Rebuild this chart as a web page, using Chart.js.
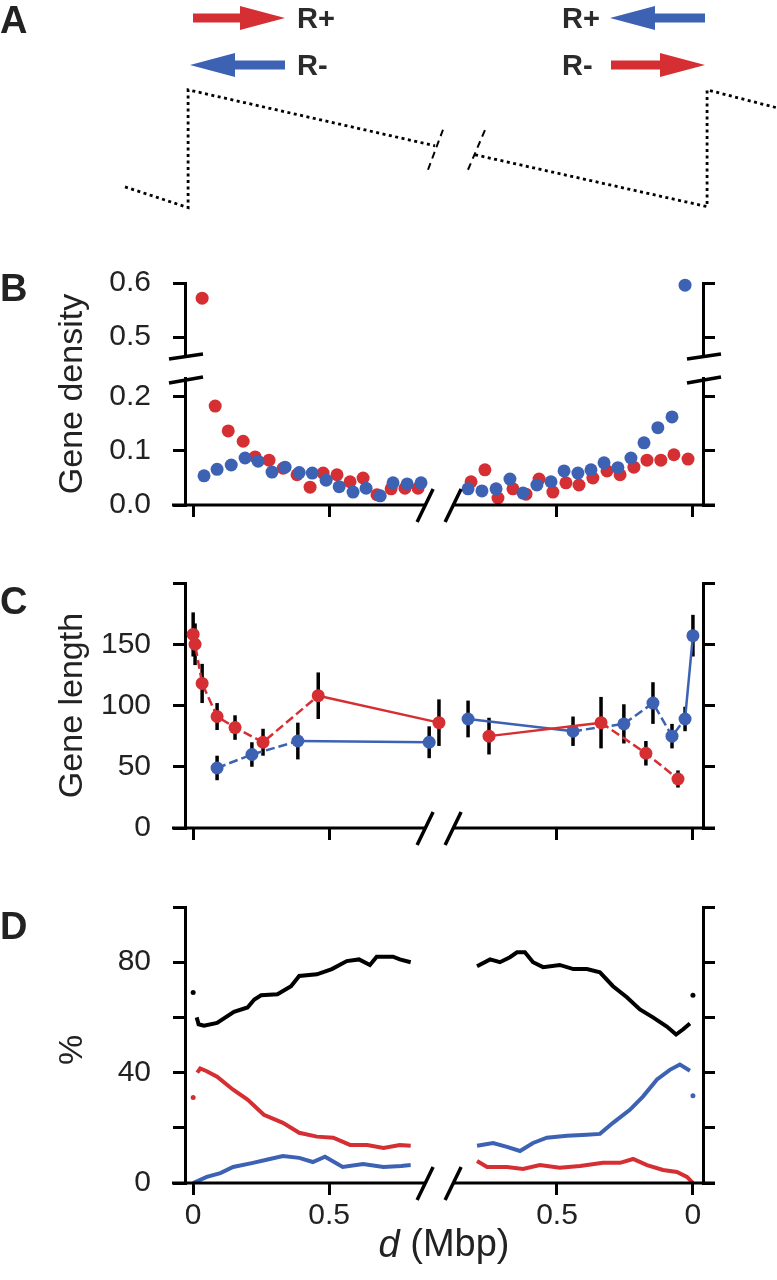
<!DOCTYPE html>
<html>
<head>
<meta charset="utf-8">
<title>Gene organisation around replication origins and termini</title>
<script src="https://cdn.jsdelivr.net/npm/chart.js@4.4.1/dist/chart.umd.min.js"></script>
<style>
body { margin: 0; background: #fff; }
#page { position: relative; width: 777px; height: 1280px; overflow: hidden; font-family: 'Liberation Sans', Arial, sans-serif; }
canvas { position: absolute; left: 0; }
.panel { position: absolute; left: 0; font-size: 38px; line-height: 38px; font-weight: bold; color: #222; }
.strand { position: absolute; font-size: 29px; line-height: 29px; font-weight: bold; color: #2b2b2b; }
</style>
</head>
<body>
<div id="page">
  <canvas id="cvA" width="777" height="230" style="top:0px"></canvas>
  <svg id="arrows" width="777" height="90" style="position:absolute;left:0;top:0"></svg>
  <canvas id="cvBlo" width="777" height="290" style="top:260px"></canvas>
  <canvas id="cvBhi" width="777" height="110" style="top:260px"></canvas>
  <canvas id="cvC" width="777" height="330" style="top:545px"></canvas>
  <canvas id="cvD" width="777" height="400" style="top:880px"></canvas>
  <div class="panel" style="top:1px">A</div>
  <div class="panel" style="top:269px">B</div>
  <div class="panel" style="top:582px">C</div>
  <div class="panel" style="top:907px">D</div>
  <div class="strand" style="left:297px;top:4px">R+</div>
  <div class="strand" style="left:297px;top:51px">R-</div>
  <div class="strand" style="left:562px;top:4px">R+</div>
  <div class="strand" style="left:562px;top:51px">R-</div>
</div>
<script>
const RED = '#d62f33';
const BLUE = '#3d62b3';
const INK = '#222';

// folded x axis: left half runs d = 0 -> 0.85, right half d = 0.85 -> 0
const SPAN = 1.838;          // distance (Mbp) between the two d = 0 ends
const BREAK_L = 0.853, BREAK_R = 0.956;
const X_MIN = -0.03, X_MAX = 1.875;
const xTickPos = [0, 0.5, SPAN - 0.5, SPAN];
const xTickLabels = ['0', '0.5', '0.5', '0'];

// A: schematic skew (arbitrary units)
const skewLeftX = [-0.25, -0.018, -0.018, 0.89];
const skewLeftY = [0.19, 0.017, 1.0, 0.533];
const skewRightX = [1.037, 1.89, 1.89, 2.147];
const skewRightY = [0.458, 0.025, 1.0, 0.85];
const cutX1 = [0.864, 0.919];
const cutX2 = [1.011, 1.074];
const cutY = [0.333, 0.667];

// B: gene density
const densRedLeftD = [0.033, 0.081, 0.129, 0.184, 0.228, 0.279, 0.331, 0.382, 0.430, 0.478, 0.529, 0.577, 0.625, 0.676, 0.728, 0.779, 0.827];
const densRedLeft = [0.572, 0.183, 0.137, 0.118, 0.089, 0.083, 0.068, 0.056, 0.033, 0.059, 0.056, 0.043, 0.050, 0.019, 0.030, 0.031, 0.031];
const densBlueLeftD = [0.040, 0.088, 0.140, 0.191, 0.239, 0.290, 0.338, 0.390, 0.438, 0.489, 0.537, 0.588, 0.636, 0.688, 0.735, 0.787, 0.838];
const densBlueLeft = [0.054, 0.066, 0.074, 0.087, 0.081, 0.061, 0.070, 0.060, 0.059, 0.046, 0.034, 0.024, 0.031, 0.017, 0.041, 0.039, 0.041];
const densRedRightD = [0.816, 0.765, 0.717, 0.662, 0.614, 0.566, 0.515, 0.467, 0.419, 0.368, 0.316, 0.268, 0.217, 0.169, 0.118, 0.070, 0.018];
const densRedRight = [0.043, 0.065, 0.013, 0.030, 0.020, 0.048, 0.024, 0.041, 0.037, 0.050, 0.063, 0.056, 0.070, 0.083, 0.083, 0.093, 0.085];
const densBlueRightD = [0.827, 0.776, 0.724, 0.673, 0.625, 0.574, 0.522, 0.474, 0.423, 0.375, 0.327, 0.276, 0.228, 0.180, 0.129, 0.077, 0.029];
const densBlueRight = [0.030, 0.026, 0.030, 0.048, 0.022, 0.037, 0.043, 0.063, 0.059, 0.065, 0.078, 0.069, 0.087, 0.115, 0.143, 0.163, 0.596];
const DENS_BREAK = 0.3;

// C: gene length (mean and error)
const lenRedLeftD = [0, 0.007, 0.033, 0.088, 0.154, 0.257, 0.46, 0.904];
const lenRedLeft = [158, 150, 118, 91, 82, 70, 108, 86];
const lenRedLeftErr = [18, 17, 16, 11, 10, 11, 19, 19];
const lenBlueLeftD = [0.088, 0.216, 0.385, 0.868];
const lenBlueLeft = [49, 60, 71, 70];
const lenBlueLeftErr = [10, 10, 15, 13];
const lenRedRightD = [0.75, 0.338, 0.173, 0.055];
const lenRedRight = [75, 86, 61, 40];
const lenRedRightErr = [15, 21, 10, 7];
const lenBlueRightD = [0.827, 0.441, 0.254, 0.147, 0.077, 0.029, 0];
const lenBlueRight = [89, 79, 85, 102, 75, 89, 157];
const lenBlueRightErr = [15, 12, 16, 17, 10, 10, 17];

// D: percentages
const pctBlackLeftD = [0.013, 0.02, 0.04, 0.088, 0.15, 0.2, 0.225, 0.25, 0.31, 0.36, 0.39, 0.455, 0.51, 0.565, 0.61, 0.65, 0.675, 0.735, 0.76, 0.80];
const pctBlackLeft = [60, 57.5, 57, 58, 62, 63.6, 66.5, 68, 68.4, 71.3, 75, 75.6, 77.5, 80.4, 81, 79, 82, 82, 81, 80];
const pctRedLeftD = [0.015, 0.026, 0.05, 0.088, 0.147, 0.2, 0.26, 0.33, 0.39, 0.455, 0.515, 0.577, 0.64, 0.70, 0.76, 0.80];
const pctRedLeft = [40, 41.5, 40.5, 38.5, 33.8, 30.2, 24.7, 21.8, 18.2, 16.8, 16.4, 13.8, 13.8, 12.7, 13.8, 13.5];
const pctBlueLeftD = [0, 0.05, 0.1, 0.147, 0.22, 0.27, 0.33, 0.39, 0.44, 0.485, 0.55, 0.625, 0.70, 0.765, 0.80];
const pctBlueLeft = [0, 2.2, 3.6, 5.8, 7.3, 8.4, 9.8, 9.1, 7.6, 9.5, 5.8, 6.9, 5.8, 6.2, 6.5];
const pctBlackRightD = [0.794, 0.746, 0.71, 0.673, 0.647, 0.618, 0.588, 0.551, 0.49, 0.44, 0.39, 0.342, 0.294, 0.243, 0.195, 0.147, 0.096, 0.062, 0.037, 0.011];
const pctBlackRight = [78.5, 81, 80, 81.8, 83.6, 83.6, 80, 78.2, 79, 77.5, 77.5, 76.3, 71.3, 67.3, 62.9, 60, 56.7, 53.8, 55.6, 57.8];
const pctBlueRightD = [0.794, 0.735, 0.684, 0.636, 0.588, 0.537, 0.463, 0.39, 0.342, 0.294, 0.232, 0.184, 0.132, 0.085, 0.048, 0.011];
const pctBlueRight = [13.5, 14.5, 13.1, 11.6, 14.5, 16.4, 17.1, 17.5, 17.8, 21.8, 26.5, 31.3, 37.5, 41, 42.9, 40.7];
const pctRedRightD = [0.794, 0.757, 0.684, 0.625, 0.563, 0.49, 0.415, 0.331, 0.268, 0.22, 0.169, 0.11, 0.059, 0.022, 0];
const pctRedRight = [8, 5.8, 5.8, 5.1, 6.5, 5.5, 6.2, 7.3, 7.3, 8.7, 6.5, 4.7, 4, 2.2, 0];
// lone values at the two d = 0 ends (left end, right end)
const pctBlackEnds = [69, 68];
const pctRedEnds = [31, null];
const pctBlueEnds = [null, 31.6];

Chart.defaults.font.family = "'Liberation Sans', Arial, sans-serif";
Chart.defaults.color = INK;
Chart.defaults.animation = false;
Chart.defaults.responsive = false;
Chart.defaults.plugins.legend.display = false;
Chart.defaults.plugins.tooltip.enabled = false;

const leftSide = (d, v) => d.map((x, i) => ({x: x, y: v[i]}));
const rightSide = (d, v) => d.map((x, i) => ({x: SPAN - x, y: v[i]}));
const pairXY = (xs, ys) => xs.map((x, i) => ({x: x, y: ys[i]}));
const ends = v => [{x: 0, y: v[0]}, {x: SPAN, y: v[1]}].filter(p => p.y != null);

// arrows of panel A
const arrows = [
  {from: 193, to: 285, y: 18, color: RED},
  {from: 285, to: 190, y: 65, color: BLUE},
  {from: 705, to: 610, y: 18, color: BLUE},
  {from: 611, to: 705, y: 65, color: RED}
];
function arrowPoints(a) {
  const head = 45 * Math.sign(a.to - a.from), s = 4.5, h = 12;
  const nx = a.to - head;
  return [[a.from, a.y - s], [nx, a.y - s], [nx, a.y - h], [a.to, a.y], [nx, a.y + h], [nx, a.y + s], [a.from, a.y + s]]
    .map(p => p.join(',')).join(' ');
}
document.getElementById('arrows').innerHTML =
  arrows.map(a => '<polygon points="' + arrowPoints(a) + '" fill="' + a.color + '"/>').join('');

function xAxis(height, labels) {
  return {
    type: 'linear', position: 'bottom', min: X_MIN, max: X_MAX,
    afterBuildTicks: s => { s.ticks = xTickPos.map(v => ({value: v})); },
    afterFit: s => { s.height = height; s.paddingLeft = 0; s.paddingRight = 0; },
    border: {display: false},
    grid: {drawOnChartArea: false, tickLength: 12, lineWidth: 3, color: '#000'},
    ticks: {display: labels, autoSkip: false, maxRotation: 0, padding: 3, font: {size: 30},
            callback: (v, i) => xTickLabels[i]}
  };
}

function yAxis(pos, min, max, ticks, labels) {
  return {
    type: 'linear', position: pos, min: min, max: max,
    afterBuildTicks: s => { s.ticks = ticks.map(v => ({value: v})); },
    afterFit: s => { s.width = pos === 'left' ? 185 : 74; s.paddingTop = 0; s.paddingBottom = 0; },
    border: {color: '#000', width: 3},
    grid: {drawOnChartArea: false, tickLength: 12, lineWidth: 3, color: '#000'},
    ticks: {padding: 22, font: {size: 30}, callback: (v, i) => labels ? labels[i] : ''}
  };
}

function drawFoldedXAxis(chart) {
  const {ctx, chartArea: a, scales: {x}} = chart;
  const b1 = x.getPixelForValue(BREAK_L), b2 = x.getPixelForValue(BREAK_R);
  ctx.save();
  ctx.strokeStyle = '#000';
  ctx.lineWidth = 3;
  ctx.beginPath();
  ctx.moveTo(a.left - 13, a.bottom); ctx.lineTo(b1, a.bottom);
  ctx.moveTo(b2, a.bottom); ctx.lineTo(a.right + 12, a.bottom);
  ctx.stroke();
  ctx.lineWidth = 3.5;
  ctx.beginPath();
  for (const b of [b1, b2]) {
    ctx.moveTo(b - 8, a.bottom + 17);
    ctx.lineTo(b + 8, a.bottom - 16);
  }
  ctx.stroke();
  ctx.restore();
}

function drawYTitle(chart, text, cy) {
  const ctx = chart.ctx;
  ctx.save();
  ctx.translate(73, cy);
  ctx.rotate(-Math.PI / 2);
  ctx.font = "34px 'Liberation Sans', Arial, sans-serif";
  ctx.fillStyle = INK;
  ctx.textAlign = 'center';
  ctx.textBaseline = 'middle';
  ctx.fillText(text, 0, 0);
  ctx.restore();
}

function drawXTitle(chart, y) {
  const ctx = chart.ctx, a = chart.chartArea;
  const fam = "'Liberation Sans', Arial, sans-serif";
  const rest = ' (Mbp)';
  ctx.save();
  ctx.fillStyle = INK;
  ctx.textBaseline = 'middle';
  ctx.textAlign = 'left';
  ctx.font = 'italic 38px ' + fam;
  const w1 = ctx.measureText('d').width;
  ctx.font = '38px ' + fam;
  const w2 = ctx.measureText(rest).width;
  const x0 = (a.left + a.right) / 2 - (w1 + w2) / 2;
  ctx.font = 'italic 38px ' + fam;
  ctx.fillText('d', x0, y);
  ctx.font = '38px ' + fam;
  ctx.fillText(rest, x0 + w1, y);
  ctx.restore();
}

// ---- A: schematic ----
const dotted = {showLine: true, borderColor: '#000', borderWidth: 2.8, borderDash: [3, 3.5], pointRadius: 0, clip: false};
const dashed = {showLine: true, borderColor: '#000', borderWidth: 2, borderDash: [7, 5], pointRadius: 0, clip: false};
new Chart('cvA', {
  type: 'scatter',
  data: {datasets: [
    Object.assign({data: pairXY(skewLeftX, skewLeftY)}, dotted),
    Object.assign({data: pairXY(skewRightX, skewRightY)}, dotted),
    Object.assign({data: pairXY(cutX1, cutY)}, dashed),
    Object.assign({data: pairXY(cutX2, cutY)}, dashed)
  ]},
  options: {
    layout: {padding: 0},
    scales: {
      x: {type: 'linear', display: false, min: -193 / 272, max: 584 / 272},
      y: {type: 'linear', display: false, min: -0.17, max: 1.75}
    }
  }
});

// ---- B: gene density (broken y axis: two stacked charts) ----
const densRed = leftSide(densRedLeftD, densRedLeft).concat(rightSide(densRedRightD, densRedRight));
const densBlue = leftSide(densBlueLeftD, densBlueLeft).concat(rightSide(densBlueRightD, densBlueRight));
const dot = color => ({pointRadius: 6.5, pointBackgroundColor: color, pointBorderWidth: 0, clip: false});

const bHi = new Chart('cvBhi', {
  type: 'scatter',
  data: {datasets: [
    Object.assign({data: densBlue.filter(p => p.y > DENS_BREAK)}, dot(BLUE)),
    Object.assign({data: densRed.filter(p => p.y > DENS_BREAK)}, dot(RED))
  ]},
  options: {
    layout: {padding: {top: 23, bottom: 15}},
    scales: {
      x: {type: 'linear', display: false, min: X_MIN, max: X_MAX},
      y: yAxis('left', 0.467, 0.6, [0.5, 0.6], ['0.5', '0.6']),
      y2: yAxis('right', 0.467, 0.6, [0.5, 0.6])
    }
  }
});

new Chart('cvBlo', {
  type: 'scatter',
  data: {datasets: [
    Object.assign({data: densBlue.filter(p => p.y < DENS_BREAK)}, dot(BLUE)),
    Object.assign({data: densRed.filter(p => p.y < DENS_BREAK)}, dot(RED))
  ]},
  options: {
    layout: {padding: {top: 118}},
    scales: {
      x: xAxis(45, false),
      y: yAxis('left', 0, 0.235, [0, 0.1, 0.2], ['0.0', '0.1', '0.2']),
      y2: yAxis('right', 0, 0.235, [0, 0.1, 0.2])
    }
  },
  plugins: [{
    id: 'bFrame',
    afterDraw(chart) {
      const {ctx, chartArea: a} = chart;
      const hb = bHi.chartArea.bottom;
      drawFoldedXAxis(chart);
      ctx.save();
      ctx.strokeStyle = '#000';
      ctx.lineWidth = 3.5;
      ctx.beginPath();
      for (const x of [a.left, a.right]) {
        ctx.moveTo(x - 16, hb + 4); ctx.lineTo(x + 18, hb - 1);
        ctx.moveTo(x - 16, a.top + 5); ctx.lineTo(x + 18, a.top - 1);
      }
      ctx.stroke();
      ctx.restore();
      drawYTitle(chart, 'Gene density', (bHi.chartArea.top + a.bottom) / 2);
    }
  }]
});

// ---- C: gene length ----
const lenLine = (color, pts, errs) => ({
  data: pts, errors: errs, showLine: true, borderColor: color, borderWidth: 2.5,
  pointRadius: 6.5, pointBackgroundColor: color, pointBorderWidth: 0, clip: false,
  segment: {borderDash: ctx => Math.hypot(ctx.p1.x - ctx.p0.x, ctx.p1.y - ctx.p0.y) > 80 ? undefined : [9, 4]}
});

new Chart('cvC', {
  type: 'scatter',
  data: {datasets: [
    lenLine(RED, leftSide(lenRedLeftD, lenRedLeft), lenRedLeftErr),
    lenLine(RED, rightSide(lenRedRightD, lenRedRight), lenRedRightErr),
    lenLine(BLUE, leftSide(lenBlueLeftD, lenBlueLeft), lenBlueLeftErr),
    lenLine(BLUE, rightSide(lenBlueRightD, lenBlueRight), lenBlueRightErr)
  ]},
  options: {
    layout: {padding: {top: 38}},
    scales: {
      x: xAxis(47, false),
      y: yAxis('left', 0, 200, [0, 50, 100, 150, 200], ['0', '50', '100', '150', '']),
      y2: yAxis('right', 0, 200, [0, 50, 100, 150, 200])
    }
  },
  plugins: [{
    id: 'cFrame',
    beforeDatasetsDraw(chart) {
      const ctx = chart.ctx, y = chart.scales.y;
      ctx.save();
      ctx.strokeStyle = '#000';
      ctx.lineWidth = 3.5;
      chart.data.datasets.forEach((ds, i) => {
        chart.getDatasetMeta(i).data.forEach((pt, j) => {
          const v = ds.data[j].y, e = ds.errors[j];
          ctx.beginPath();
          ctx.moveTo(pt.x, y.getPixelForValue(v - e));
          ctx.lineTo(pt.x, y.getPixelForValue(v + e));
          ctx.stroke();
        });
      });
      ctx.restore();
    },
    afterDraw(chart) {
      drawFoldedXAxis(chart);
      drawYTitle(chart, 'Gene length', (chart.chartArea.top + chart.chartArea.bottom) / 2);
    }
  }]
});

// ---- D: percentages ----
const pctLine = (color, pts) => ({data: pts, showLine: true, borderColor: color, borderWidth: 4, pointRadius: 0, clip: false});
const pctDot = (color, pts) => ({data: pts, pointRadius: 2.5, pointBackgroundColor: color, pointBorderWidth: 0, clip: false});

new Chart('cvD', {
  type: 'scatter',
  data: {datasets: [
    pctLine('#000', leftSide(pctBlackLeftD, pctBlackLeft)),
    pctLine('#000', rightSide(pctBlackRightD, pctBlackRight)),
    pctLine(RED, leftSide(pctRedLeftD, pctRedLeft)),
    pctLine(RED, rightSide(pctRedRightD, pctRedRight)),
    pctLine(BLUE, leftSide(pctBlueLeftD, pctBlueLeft)),
    pctLine(BLUE, rightSide(pctBlueRightD, pctBlueRight)),
    pctDot('#000', ends(pctBlackEnds)),
    pctDot(RED, ends(pctRedEnds)),
    pctDot(BLUE, ends(pctBlueEnds))
  ]},
  options: {
    layout: {padding: {top: 27}},
    scales: {
      x: xAxis(97, true),
      y: yAxis('left', 0, 100, [0, 20, 40, 60, 80, 100], ['0', '', '40', '', '80', '']),
      y2: yAxis('right', 0, 100, [0, 20, 40, 60, 80, 100])
    }
  },
  plugins: [{
    id: 'dFrame',
    afterDraw(chart) {
      const a = chart.chartArea;
      drawFoldedXAxis(chart);
      drawYTitle(chart, '%', (a.top + a.bottom) / 2 + 5);
      drawXTitle(chart, a.bottom + 63);
    }
  }]
});
</script>
</body>
</html>
